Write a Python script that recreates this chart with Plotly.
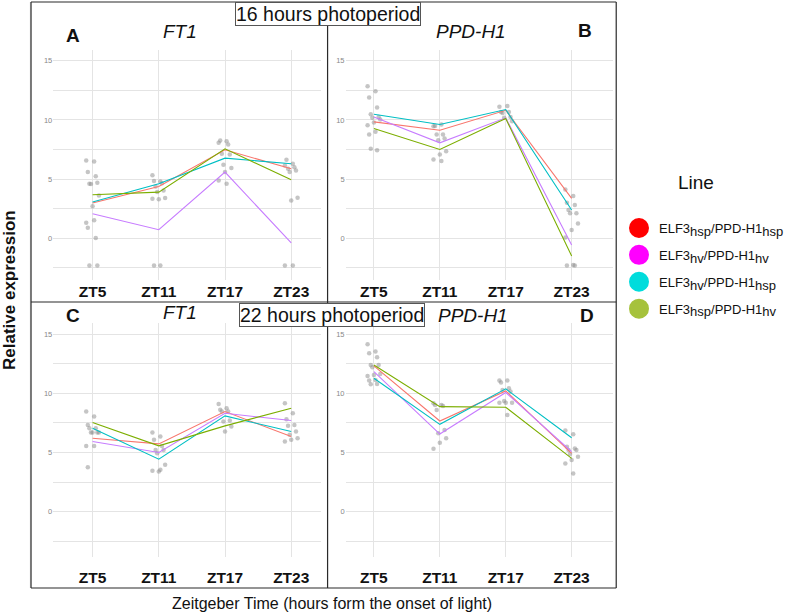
import plotly.graph_objects as go

W, H = 789, 613

zt_labels = ["ZT5", "ZT11", "ZT17", "ZT23"]
genotypes = [("hsp", "hsp"), ("hv", "hv"), ("hv", "hsp"), ("hsp", "hv")]
line_colors = ["#F8766D", "#C77CFF", "#00BFC4", "#7CAE00"]
legend_colors = ["#FF0000", "#FF00FF", "#00DCDC", "#A6C23C"]

# ---- genotype means (order: hsp/hsp, hv/hv, hv/hsp, hsp/hv) ----
ft1_16h_means = [
    [2.98, 4.38, 7.47, 5.87],
    [2.08, 0.73, 5.59, -0.39],
    [3.06, 4.60, 6.77, 6.29],
    [3.68, 3.90, 7.56, 4.94],
]
ppd_16h_means = [
    [9.83, 9.13, 10.81, 3.37],
    [10.25, 8.06, 10.17, -0.56],
    [10.48, 9.61, 10.87, 2.39],
    [9.27, 7.50, 10.11, -1.49],
]
ft1_22h_means = [
    [6.21, 5.73, 8.46, 6.35],
    [5.93, 5.00, 8.31, 7.70],
    [7.05, 4.44, 8.09, 6.77],
    [7.53, 5.56, 7.25, 8.74],
]
ppd_22h_means = [
    [12.31, 7.66, 10.20, 4.93],
    [11.83, 6.56, 10.06, 5.07],
    [11.27, 7.38, 10.37, 6.25],
    [12.39, 8.87, 8.82, 4.51],
]

# ---- individual samples per time point (ZT5, ZT11, ZT17, ZT23) ----
ft1_16h_points = [
    [6.57, 6.49, 5.59, 5.25, 4.61, 4.69, 4.58, 3.62, 2.70, 1.32, 1.52, 0.90, 0.03, -2.30, -2.30],
    [5.33, 4.80, 4.83, 4.65, 4.37, 4.04, 3.90, 3.40, 3.29, 3.34, -2.30, -2.30],
    [8.06, 8.20, 8.26, 7.92, 7.13, 7.08, 6.21, 5.93, 5.59, 4.89, 4.61],
    [6.15, 6.29, 6.63, 6.01, 5.87, 5.73, 5.59, 3.43, 3.20, -2.30, -2.30],
]
ppd_16h_points = [
    [12.84, 12.42, 11.88, 11.04, 10.48, 10.25, 10.17, 10.03, 9.78, 9.55, 8.99, 8.76, 7.44, 7.56],
    [9.47, 9.61, 9.49, 8.76, 8.76, 8.43, 8.29, 7.36, 7.08, 6.66, 6.52],
    [11.10, 11.18, 10.67, 10.67, 10.59, 10.25, 10.17, 9.89],
    [4.13, 3.57, 3.01, 2.81, 2.39, 2.11, 2.11, 1.26, 0.70, 0.06, -2.25, -2.30, -2.30],
]
ft1_22h_points = [
    [8.46, 8.03, 7.33, 7.05, 7.05, 6.69, 6.69, 6.69, 6.69, 5.56, 5.56, 3.76],
    [6.69, 6.35, 6.07, 5.56, 5.22, 5.22, 4.94, 3.96, 3.40, 3.46, 3.54],
    [9.10, 8.74, 8.60, 8.46, 8.46, 7.70, 7.61, 7.19, 6.77],
    [9.16, 8.31, 7.81, 7.33, 7.25, 6.77, 6.49, 6.21, 6.07, 5.93],
]
ppd_22h_points = [
    [14.14, 13.52, 13.38, 13.04, 12.39, 12.39, 12.20, 11.63, 11.55, 11.46, 11.13, 11.07, 10.79, 10.76],
    [9.15, 9.01, 9.01, 8.93, 8.59, 6.90, 6.62, 6.20, 5.83, 5.32],
    [11.07, 11.07, 10.90, 10.42, 10.28, 10.14, 9.35, 9.21, 9.21, 9.21, 8.17],
    [6.85, 6.54, 5.49, 5.35, 5.21, 5.21, 4.87, 4.65, 4.37, 4.08, 3.24],
]

panels = [
    (ft1_16h_means, ft1_16h_points, "x", "y"),
    (ppd_16h_means, ppd_16h_points, "x2", "y2"),
    (ft1_22h_means, ft1_22h_points, "x3", "y3"),
    (ppd_22h_means, ppd_22h_points, "x4", "y4"),
]


def jitter(n):
    return [((k * 5) % 9 - 4) * 0.024 for k in range(n)]


def lbl(a, b):
    s = "font-size:13px"
    return (f"ELF3<sub><span style='{s}'>{a}</span></sub>/PPD-H1"
            f"<sub><span style='{s}'>{b}</span></sub>")


fig = go.Figure()
xs = list(range(len(zt_labels)))

for means, points, xa, ya in panels:
    px_, py_ = [], []
    for i, vals in enumerate(points):
        for v, j in zip(vals, jitter(len(vals))):
            px_.append(xs[i] + j)
            py_.append(v)
    fig.add_trace(go.Scatter(x=px_, y=py_, mode="markers", xaxis=xa, yaxis=ya,
                             marker=dict(size=4.5, color="rgba(140,140,140,0.5)"),
                             showlegend=False, hoverinfo="skip"))
    for k, series in enumerate(means):
        fig.add_trace(go.Scatter(x=xs, y=series, mode="lines", xaxis=xa, yaxis=ya,
                                 line=dict(color=line_colors[k], width=1.1),
                                 showlegend=False))

for k, (a, b) in enumerate(genotypes):
    fig.add_trace(go.Scatter(x=[None], y=[None], mode="markers", name=lbl(a, b),
                             legendgroup=f"g{k}",
                             marker=dict(size=16, color=legend_colors[k],
                                         line=dict(width=4, color=legend_colors[k]))))


def fx(p):
    return p / W


def fy(p):
    return 1 - p / H


top_dom = [fy(280), fy(50)]
bot_dom = [fy(556.7), fy(323)]
left_dom = [fx(53.3), fx(321.7)]
right_dom = [fx(346), fx(613.3)]
left_rng = [-0.594, 3.454]
right_rng = [-0.43, 3.62]
top_rng = [-3.52, 15.9]
bot_rng = [-3.79, 15.93]

grid = "#E4E4E4"
xcommon = dict(tickvals=xs, ticktext=zt_labels, showgrid=True, gridcolor=grid, gridwidth=1,
               zeroline=False, showline=False, ticks="",
               tickfont=dict(family="Liberation Sans", size=15.5, color="#111111", weight="bold"))
ycommon = dict(tickvals=[0, 5, 10, 15], showgrid=True, gridcolor=grid, gridwidth=1,
               zeroline=False, showline=False, ticks="",
               minor=dict(tickvals=[-2.5, 2.5, 7.5, 12.5], showgrid=True, gridcolor=grid, gridwidth=1),
               tickfont=dict(family="Liberation Sans", size=7.5, color="#888888"))

fig.update_layout(
    xaxis=dict(domain=left_dom, range=left_rng, anchor="y", ticklabelstandoff=0, **xcommon),
    xaxis2=dict(domain=right_dom, range=right_rng, anchor="y2", ticklabelstandoff=0, **xcommon),
    xaxis3=dict(domain=left_dom, range=left_rng, anchor="y3", ticklabelstandoff=10, **xcommon),
    xaxis4=dict(domain=right_dom, range=right_rng, anchor="y4", ticklabelstandoff=10, **xcommon),
    yaxis=dict(domain=top_dom, range=top_rng, anchor="x", **ycommon),
    yaxis2=dict(domain=top_dom, range=top_rng, anchor="x2", **ycommon),
    yaxis3=dict(domain=bot_dom, range=bot_rng, anchor="x3", **ycommon),
    yaxis4=dict(domain=bot_dom, range=bot_rng, anchor="x4", **ycommon),
)

shapes = []
line_dark = dict(color="#2a2a2a", width=1.2)
for (x0, y0, x1, y1, ln) in [
    (31, 2, 31, 588, dict(color="#777777", width=2)),
    (31, 2, 617, 2, line_dark),
    (617, 2, 617, 588, line_dark),
    (31, 588, 617, 588, line_dark),
    (328, 2, 328, 588, line_dark),
    (31, 302, 617, 302, line_dark),
]:
    shapes.append(dict(type="line", xref="paper", yref="paper",
                       x0=fx(x0), y0=fy(y0), x1=fx(x1), y1=fy(y1), line=ln))

annotations = []


def ann(text, x, y, size, bold=False, italic=False, **kw):
    t = text
    if bold:
        t = f"<b>{t}</b>"
    if italic:
        t = f"<i>{t}</i>"
    d = dict(text=t, x=fx(x), y=fy(y), xref="paper", yref="paper", showarrow=False,
             xanchor="center", yanchor="middle",
             font=dict(family="Liberation Sans", size=size, color="#111111"))
    d.update(kw)
    annotations.append(d)


ann("A", 73, 35, 19, bold=True)
ann("B", 586, 31, 19, bold=True)
ann("C", 73, 315, 19, bold=True)
ann("D", 588, 315, 19, bold=True)
ann("FT1", 180, 31.5, 19, italic=True)
ann("PPD-H1", 472, 31.5, 19, italic=True)
ann("FT1", 180, 313, 19, italic=True)
ann("PPD-H1", 474, 315, 19, italic=True)
ann("16 hours photoperiod", 328.5, 14.5, 19.5, bgcolor="white", bordercolor="#555555",
    borderwidth=1, borderpad=0)
ann("22 hours photoperiod", 332.5, 314.5, 19.5, bgcolor="white", bordercolor="#555555",
    borderwidth=1, borderpad=0)
ann("Relative expression", 9, 290, 17, bold=True, textangle=-90)
ann("Zeitgeber Time (hours form the onset of light)", 332, 603, 16)
ann("Line", 697, 183, 19)

fig.update_layout(
    width=W, height=H, autosize=False,
    margin=dict(l=0, r=0, t=0, b=0),
    paper_bgcolor="white", plot_bgcolor="white",
    shapes=shapes, annotations=annotations,
    showlegend=True,
    legend=dict(x=fx(620), y=fy(213), xanchor="left", yanchor="top",
                bgcolor="rgba(0,0,0,0)", tracegroupgap=7, itemsizing="trace",
                font=dict(family="Liberation Sans", size=13, color="#111111")),
)

fig.write_html("out.html")
